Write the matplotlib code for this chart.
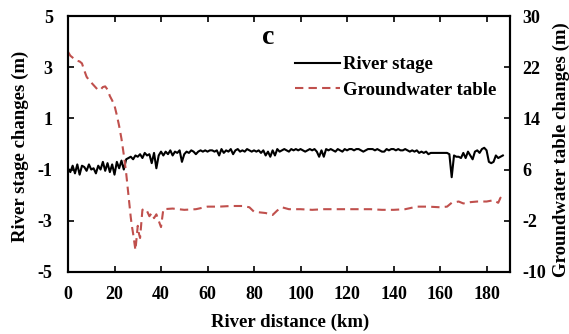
import numpy as np
import matplotlib.pyplot as plt

plt.rcParams['font.family'] = 'Liberation Serif'
plt.rcParams['font.weight'] = 'bold'
plt.rcParams['axes.unicode_minus'] = False

# river stage changes (m), one value per km
stage_km = np.arange(0, 188)
stage = [-0.95, -1.1, -0.85, -1.15, -0.8, -1.2, -0.85, -0.9, -1.05, -0.8,
         -1.0, -0.95, -1.15, -0.85, -1.0, -0.7, -1.05, -0.75, -1.1, -0.8,
         -1.2, -0.7, -0.95, -0.65, -1.0, -0.6, -0.55, -0.5, -0.6, -0.45,
         -0.5, -0.4, -0.55, -0.35, -0.45, -0.4, -0.75, -0.35, -0.95, -0.45,
         -0.3, -0.45, -0.3, -0.4, -0.25, -0.45, -0.3, -0.35, -0.25, -0.7,
         -0.4, -0.3, -0.35, -0.25, -0.3, -0.4, -0.3, -0.25, -0.3, -0.25,
         -0.3, -0.25, -0.25, -0.3, -0.25, -0.45, -0.2, -0.35, -0.25, -0.3,
         -0.2, -0.4, -0.25, -0.2, -0.3, -0.25, -0.3, -0.2, -0.25, -0.3,
         -0.25, -0.3, -0.25, -0.35, -0.25, -0.45, -0.3, -0.5, -0.25, -0.45,
         -0.2, -0.3, -0.25, -0.2, -0.25, -0.3, -0.2, -0.25, -0.2, -0.25,
         -0.2, -0.25, -0.3, -0.25, -0.2, -0.25, -0.2, -0.3, -0.5, -0.25,
         -0.5, -0.2, -0.25, -0.2, -0.25, -0.3, -0.2, -0.25, -0.3, -0.2,
         -0.25, -0.2, -0.2, -0.25, -0.2, -0.2, -0.25, -0.3, -0.25, -0.2,
         -0.2, -0.2, -0.25, -0.2, -0.25, -0.3, -0.3, -0.2, -0.25, -0.2,
         -0.2, -0.25, -0.2, -0.25, -0.25, -0.2, -0.25, -0.3, -0.25, -0.3,
         -0.25, -0.35, -0.3, -0.35, -0.3, -0.4, -0.35, -0.35, -0.35, -0.35,
         -0.35, -0.35, -0.35, -0.35, -0.4, -1.3, -0.45, -0.5, -0.5, -0.55,
         -0.35, -0.55, -0.3, -0.45, -0.6, -0.3, -0.25, -0.35, -0.2, -0.15,
         -0.25, -0.7, -0.75, -0.7, -0.45, -0.55, -0.5, -0.45]

# groundwater table changes (m)
gw_km = [0, 1, 2, 3, 4, 5, 6, 7, 8, 9, 10, 11, 12, 13, 14, 15, 16, 17, 18, 19,
         20, 21, 22, 23, 24, 25, 26, 27, 27.5, 28, 29, 30, 30.5, 31, 32, 33,
         34, 35, 36, 37, 38, 39, 40, 41, 45, 50, 55, 60, 65, 70, 75, 78, 80,
         85, 88, 90, 92, 95, 100, 105, 110, 115, 120, 125, 130, 135, 140, 145,
         150, 155, 160, 163, 165, 168, 170, 173, 176, 180, 183, 185, 186, 187]
gw = [24.4, 23.8, 23.5, 23.2, 23.0, 22.9, 22.6, 21.5, 20.5, 20.0, 19.6, 19.2,
      18.8, 18.4, 18.5, 18.9, 19.0, 18.5, 17.5, 16.8, 16.0, 14.5, 12.8, 10.8,
      8.3, 5.5, 2.0, -1.5, -2.9, -4.0, -6.6, -2.8, -4.0, -4.7, -0.3, -0.1,
      -0.5, -1.3, -0.8, -1.6, -1.0, -2.0, -3.0, -0.2, -0.1, -0.3, -0.2, 0.2,
      0.2, 0.3, 0.3, 0.1, -0.6, -0.8, -1.1, -0.4, 0.1, -0.2, -0.2, -0.3, -0.2,
      -0.2, -0.2, -0.2, -0.2, -0.3, -0.3, -0.2, 0.2, 0.2, 0.1, 0.2, 0.8, 1.0,
      0.7, 0.9, 1.0, 1.0, 1.2, 0.8, 1.6, 1.0]

fig = plt.figure(figsize=(5.69, 3.34), dpi=100)
ax = fig.add_axes([0.1195, 0.186, 0.7765, 0.766])
ax2 = ax.twinx()

l1, = ax.plot(stage_km, stage, color='black', lw=1.5, label='River stage')
l2, = ax2.plot(gw_km, gw, color='#C0504D', lw=1.5, dashes=(4, 2.5),
               label='Groundwater table')

ax.set_xlim(0, 190)
ax.set_ylim(-5, 5)
ax2.set_ylim(-10, 30)
ax.set_xticks(range(0, 181, 20))
ax.set_yticks([-5, -3, -1, 1, 3, 5])
ax2.set_yticks([-10, -2, 6, 14, 22, 30])

ax.tick_params(axis='x', direction='in', top=True, length=4, width=1.2,
               labelsize=13, pad=10)
ax.tick_params(axis='y', direction='in', length=4, width=1.2, labelsize=13,
               pad=11)
ax2.tick_params(axis='y', direction='in', length=4, width=1.2, labelsize=13,
                pad=9)
for a in (ax, ax2):
    for s in a.spines.values():
        s.set_linewidth(1.5)

fig.text(290 / 569, 1 - 322 / 334, 'River distance (km)', fontsize=13.5,
         fontweight='bold', ha='center', va='center')
fig.text(20 / 569, 1 - 146 / 334, 'River stage changes (m)', fontsize=13.5,
         fontweight='bold', ha='center', va='center', rotation=90)
fig.text(561 / 569, 1 - 150 / 334, 'Groundwater table changes (m)',
         fontsize=13.5, fontweight='bold', ha='center', va='center',
         rotation=90)

fig.text(268 / 569, 1 - 37 / 334, 'c', fontsize=20, fontweight='bold',
         ha='center', va='center')
ax.legend([l1, l2], ['River stage', 'Groundwater table'], loc='upper left',
          bbox_to_anchor=(0.513, 0.843), frameon=False, fontsize=13.5,
          borderpad=0, borderaxespad=0,
          handlelength=2.4, handletextpad=0.2, labelspacing=0.45)

fig.savefig('out.png', dpi=100)
